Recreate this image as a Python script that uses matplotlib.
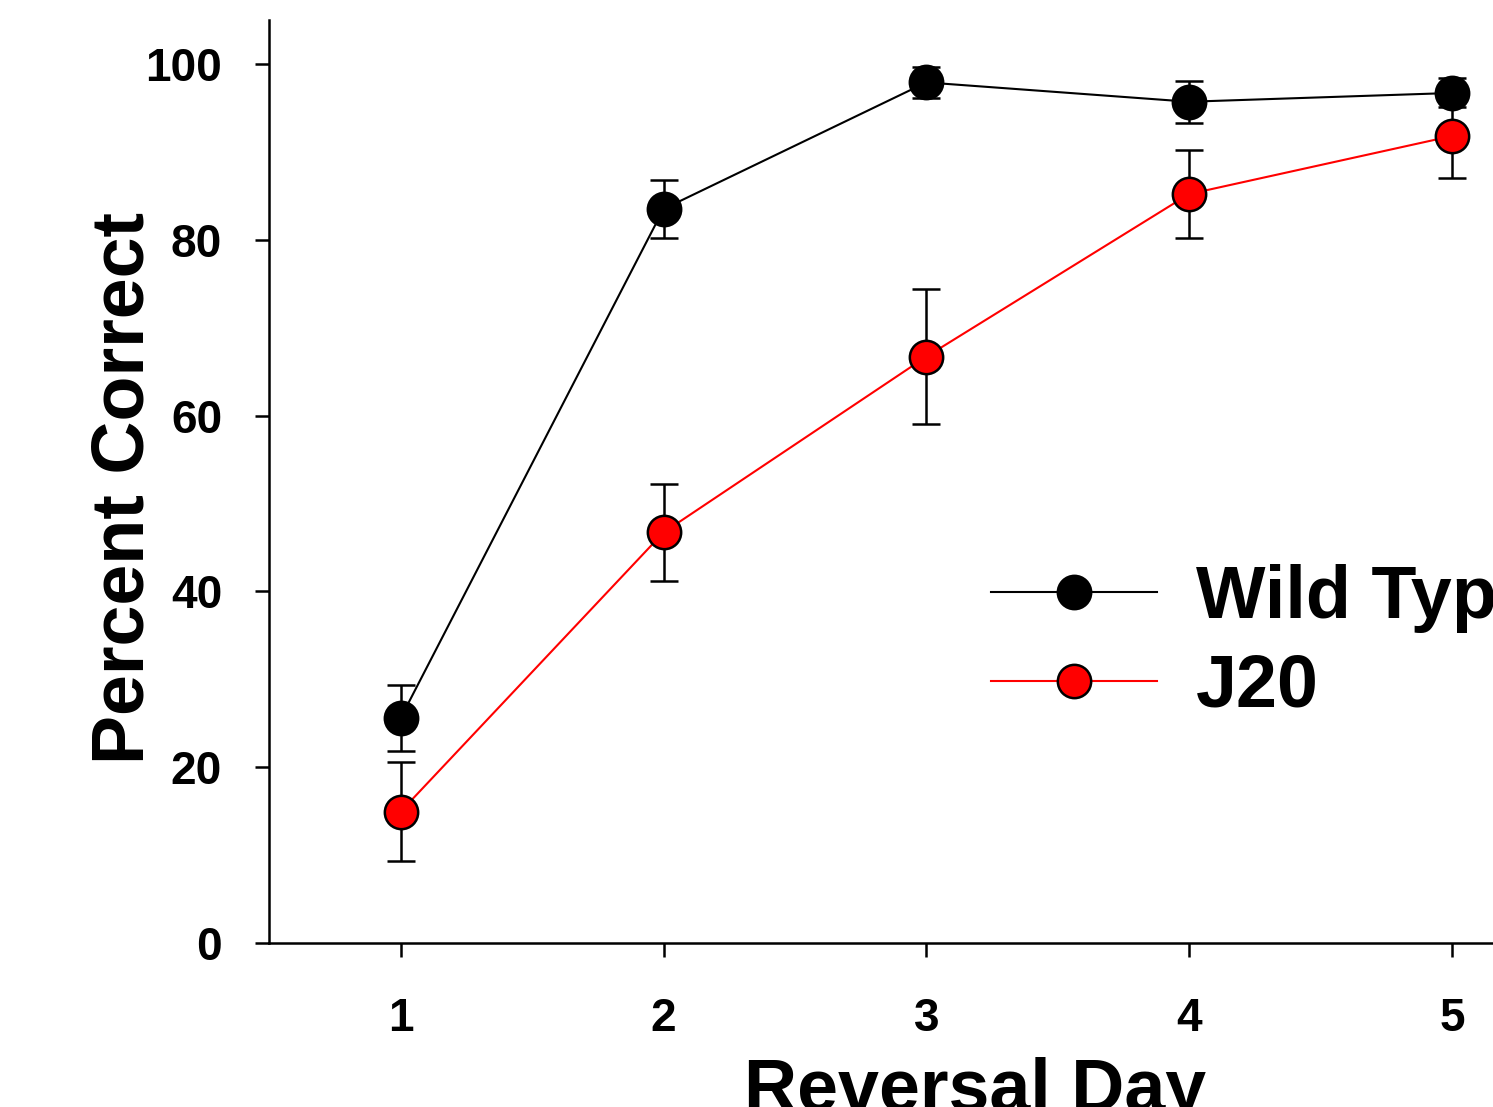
import matplotlib
matplotlib.use("Agg")
import matplotlib.pyplot as plt
import numpy as np

plt.rcParams['font.family'] = ['Liberation Sans', 'DejaVu Sans']
plt.rcParams['font.weight'] = 'bold'

days = [1, 2, 3, 4, 5]
wt_mean = [25.6, 83.5, 97.9, 95.7, 96.7]
wt_err = [3.75, 3.3, 1.8, 2.4, 1.65]
j20_mean = [14.95, 46.7, 66.7, 85.2, 91.8]
j20_err = [5.6, 5.55, 7.65, 5.0, 4.8]
series_labels = ['Wild Type', 'J20']
yticks = [0, 20, 40, 60, 80, 100]

W, H = 1493, 1107
fig = plt.figure(figsize=(W / 100, H / 100), dpi=100)
ax = fig.add_axes([269.3 / W, (H - 943) / H, 1314 / W, 923 / H])

ms = 24.0
mew = 1.8
lw = 1.5
lab_fs = 53

for mean, err in [(wt_mean, wt_err), (j20_mean, j20_err)]:
    ax.errorbar(days, mean, yerr=err, fmt='none', ecolor='black',
                elinewidth=1.8, capsize=10, capthick=1.8, zorder=2)

ax.plot(days, j20_mean, '-o', color='red', lw=lw, ms=ms, mfc='red',
        mec='black', mew=mew, label=series_labels[1], zorder=3)
ax.plot(days, wt_mean, '-o', color='black', lw=lw, ms=ms, mfc='black',
        mec='black', mew=mew, label=series_labels[0], zorder=4)

ax.set_xlim(0.5, 5.5)
ax.set_ylim(0, 105)
ax.set_xticks(days)
ax.set_yticks(yticks)
for s in ['top', 'right']:
    ax.spines[s].set_visible(False)
for s in ['left', 'bottom']:
    ax.spines[s].set_linewidth(1.8)
ax.tick_params(axis='both', direction='out', length=10, width=1.8,
               labelsize=33)
ax.tick_params(axis='x', pad=29)
ax.tick_params(axis='y', pad=24)
for lab in ax.get_xticklabels() + ax.get_yticklabels():
    lab.set_fontweight('bold')

fig.text((95 + 152) / 2 / W, 1 - 487.5 / H, 'Percent Correct', rotation=90,
         ha='center', va='center', fontsize=lab_fs, fontweight='bold')
fig.text(975 / W, (H - 1110.7) / H, 'Reversal Day', ha='center',
         va='baseline', fontsize=lab_fs, fontweight='bold')

handles, labels = ax.get_legend_handles_labels()
order = [1, 0]
leg = ax.legend([handles[i] for i in order], [labels[i] for i in order],
                loc='upper left', bbox_to_anchor=(991 / W, 1 - 564 / H),
                bbox_transform=fig.transFigure, frameon=False,
                handlelength=2.255, handletextpad=0.53,
                labelspacing=0.27, borderpad=0, borderaxespad=0,
                numpoints=1, prop={'weight': 'bold', 'size': lab_fs})

fig.savefig('out.png', dpi=100)
